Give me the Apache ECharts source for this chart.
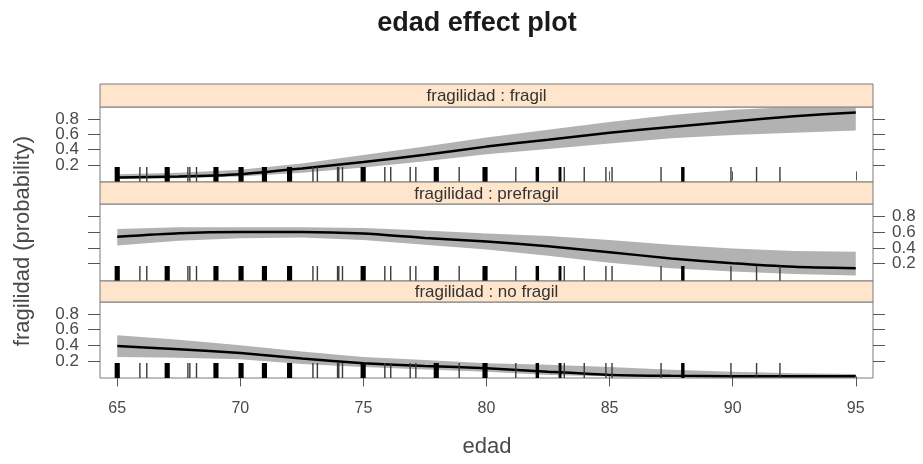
<!DOCTYPE html>
<html><head><meta charset="utf-8">
<script src="https://cdn.jsdelivr.net/npm/echarts@6/dist/echarts.min.js"></script>
<style>html,body{margin:0;padding:0;background:#fff}#c{width:923px;height:464px}</style>
</head><body><div id="c"></div>
<script>
// ---- data ----
const ages = [65, 67.5, 70, 72.5, 75, 77.5, 80, 82.5, 85, 87.5, 90, 92.5, 95];
const fragilFit   = [0.04, 0.05, 0.08, 0.155, 0.24, 0.335, 0.44, 0.53, 0.62, 0.695, 0.765, 0.835, 0.885];
const fragilUpper = [0.08, 0.10, 0.14, 0.22, 0.33, 0.44, 0.56, 0.66, 0.76, 0.85, 0.92, 0.96, 0.97];
const fragilLower = [0.02, 0.03, 0.05, 0.10, 0.17, 0.25, 0.34, 0.41, 0.48, 0.55, 0.59, 0.62, 0.65];
const prefragilFit   = [0.54, 0.585, 0.60, 0.60, 0.58, 0.525, 0.48, 0.42, 0.345, 0.265, 0.205, 0.16, 0.14];
const prefragilUpper = [0.64, 0.66, 0.66, 0.66, 0.65, 0.62, 0.58, 0.55, 0.50, 0.44, 0.39, 0.36, 0.35];
const prefragilLower = [0.43, 0.49, 0.52, 0.53, 0.50, 0.44, 0.38, 0.30, 0.21, 0.14, 0.10, 0.07, 0.05];
const noFragilFit   = [0.39, 0.35, 0.30, 0.23, 0.17, 0.135, 0.105, 0.06, 0.02, 0.008, 0.004, 0.002, 0.001];
const noFragilUpper = [0.53, 0.47, 0.40, 0.32, 0.25, 0.21, 0.17, 0.15, 0.12, 0.085, 0.06, 0.04, 0.03];
const noFragilLower = [0.25, 0.24, 0.22, 0.16, 0.12, 0.09, 0.06, 0.02, 0.003, 0.001, 0, 0, 0];
// rug of observed ages (jittered)
const rugDark = [64.94, 64.98, 65.02, 65.06, 66.97, 67.01, 67.05, 67.09, 68.95, 68.99, 69.03, 69.07,
  69.97, 70.01, 70.05, 70.09, 70.92, 70.96, 71.0, 71.04, 71.94, 71.98, 72.02, 72.06,
  74.93, 74.97, 75.01, 75.05, 77.9, 77.94, 77.98, 78.02, 79.88, 79.92, 79.96, 80.0,
  82.04, 82.09, 83.0, 87.95, 88.0];
const rugThin = [65.92, 66.2, 67.87, 67.95, 68.22, 72.95, 73.13, 73.95, 74.0, 74.15, 75.87, 76.11,
  76.9, 77.13, 78.89, 81.19, 82.95, 83.16, 83.97, 84.85, 85.1, 87.09, 89.93, 90.97, 91.92];
const xTicks = [65, 70, 75, 80, 85, 90, 95];
const yTicks = [0.2, 0.4, 0.6, 0.8];
const panelNames = ['fragilidad : fragil', 'fragilidad : prefragil', 'fragilidad : no fragil'];
const titleText = 'edad effect plot';
const xName = 'edad';
const yName = 'fragilidad (probability)';

// ---- layout / style ----
const L = 100, R = 873;
const X_MIN = 64.3, X_MAX = 95.7, Y_MIN = -0.02, Y_MAX = 0.955;
const panels = [
  {stripTop: 84, top: 107, bottom: 182},
  {stripTop: 182, top: 204, bottom: 281},
  {stripTop: 281, top: 302, bottom: 378}
];
const FONT = '"Liberation Sans", Arial, sans-serif';
const border = '#7a7a7a';
const textGray = '#4a4a4a';
const bandColor = '#b2b2b2';
const RUG_LEN = 15;

const fits = [fragilFit, prefragilFit, noFragilFit];
const uppers = [fragilUpper, prefragilUpper, noFragilUpper];
const lowers = [fragilLower, prefragilLower, noFragilLower];

const grid = panels.map(p => ({left: L, width: R - L, top: p.top, height: p.bottom - p.top,
  show: true, borderColor: border, borderWidth: 1, backgroundColor: 'transparent'}));

const xAxis = panels.map((p, i) => {
  const ax = {type: 'value', gridIndex: i, min: X_MIN, max: X_MAX, splitLine: {show: false},
    axisLine: {show: false}, axisTick: {show: false}, axisLabel: {show: false}};
  if (i === 0) {
    ax.position = 'top'; ax.offset = p.top - p.stripTop;
    ax.axisTick = {show: true, length: 9, customValues: xTicks, lineStyle: {color: '#555'}};
  }
  if (i === 2) {
    ax.position = 'bottom';
    ax.axisTick = {show: true, length: 10, customValues: xTicks, lineStyle: {color: '#555'}};
    ax.axisLabel = {show: true, customValues: xTicks, margin: 23, fontSize: 16, color: textGray, fontFamily: FONT};
  }
  return ax;
});

// y tick labels are split over two overlaid axes so the crowded labels are all kept
const yLabelsA = yTicks.filter((v, k) => k % 2 === 0);
const yLabelsB = yTicks.filter((v, k) => k % 2 === 1);
const yAxis = [];
panels.forEach((p, i) => {
  const leftLabels = (i !== 1);
  ['left', 'right'].forEach(side => {
    const withLabels = (side === 'left') === leftLabels;
    [yLabelsA, yLabelsB].forEach((labs, j) => {
      yAxis.push({type: 'value', gridIndex: i, position: side, min: Y_MIN, max: Y_MAX,
        splitLine: {show: false}, axisLine: {show: false},
        axisTick: {show: j === 0, length: 12, customValues: yTicks, lineStyle: {color: '#555'}},
        axisLabel: {show: withLabels, customValues: labs, margin: side === 'left' ? 21 : 19,
          fontSize: 17, color: textGray, fontFamily: FONT}});
    });
  });
});

function rugRender(color, w) {
  return function (params, api) {
    const b = api.coord([api.value(0), Y_MIN]);
    return {type: 'line', shape: {x1: b[0], y1: b[1], x2: b[0], y2: b[1] - RUG_LEN},
      style: {stroke: color, lineWidth: w}};
  };
}

function bandRender(up, lo) {
  return function (params, api) {
    if (params.dataIndex !== 0) return null;
    const cs = params.coordSys;
    const clampY = y => Math.max(cs.y, Math.min(cs.y + cs.height, y));
    const pts = [];
    for (let k = 0; k < ages.length; k++) {
      const c = api.coord([ages[k], up[k]]); pts.push([c[0], clampY(c[1])]);
    }
    for (let k = ages.length - 1; k >= 0; k--) {
      const c = api.coord([ages[k], lo[k]]); pts.push([c[0], clampY(c[1])]);
    }
    return {type: 'polygon', shape: {points: pts}, style: {fill: bandColor}};
  };
}

const series = [];
panels.forEach((p, i) => {
  const xi = i, yi = 4 * i;
  series.push({type: 'custom', xAxisIndex: xi, yAxisIndex: yi, silent: true,
    renderItem: bandRender(uppers[i], lowers[i]), encode: {x: 0, y: 1},
    data: ages.map((a, k) => [a, uppers[i][k], lowers[i][k]]), z: 1});
  series.push({type: 'line', xAxisIndex: xi, yAxisIndex: yi, symbol: 'none', silent: true, smooth: 0.2,
    lineStyle: {color: '#000', width: 2.5}, data: ages.map((a, k) => [a, fits[i][k]]), z: 3});
  series.push({type: 'custom', xAxisIndex: xi, yAxisIndex: yi, silent: true, renderItem: rugRender('#3a3a3a', 1.4),
    encode: {x: 0, y: 1}, data: rugThin.map(v => [v, Y_MIN]), z: 4});
  series.push({type: 'custom', xAxisIndex: xi, yAxisIndex: yi, silent: true, renderItem: rugRender('#000', 2.2),
    encode: {x: 0, y: 1}, data: rugDark.map(v => [v, Y_MIN]), z: 5});
});

const graphic = [];
panels.forEach((p, i) => {
  graphic.push({type: 'rect', shape: {x: L, y: p.stripTop, width: R - L, height: p.top - p.stripTop},
    style: {fill: '#ffe5cc', stroke: border, lineWidth: 1}, z: 10});
  graphic.push({type: 'text', x: (L + R) / 2, y: (p.stripTop + p.top) / 2 + 1,
    style: {text: panelNames[i], align: 'center', verticalAlign: 'middle', font: '17px ' + FONT, fill: '#333'}, z: 11});
});
graphic.push({type: 'text', x: 477, y: 24, style: {text: titleText, align: 'center', verticalAlign: 'middle',
  font: 'bold 27px ' + FONT, fill: '#1a1a1a'}});
graphic.push({type: 'text', x: 487, y: 447, style: {text: xName, align: 'center', verticalAlign: 'middle',
  font: '22px ' + FONT, fill: textGray}});
graphic.push({type: 'text', x: 23, y: 241, rotation: Math.PI / 2, style: {text: yName, align: 'center',
  verticalAlign: 'middle', font: '22px ' + FONT, fill: textGray}});

const chart = echarts.init(document.getElementById('c'), null, {renderer: 'canvas'});
chart.setOption({animation: false, backgroundColor: '#fff', grid, xAxis, yAxis, series, graphic});
</script></body></html>
